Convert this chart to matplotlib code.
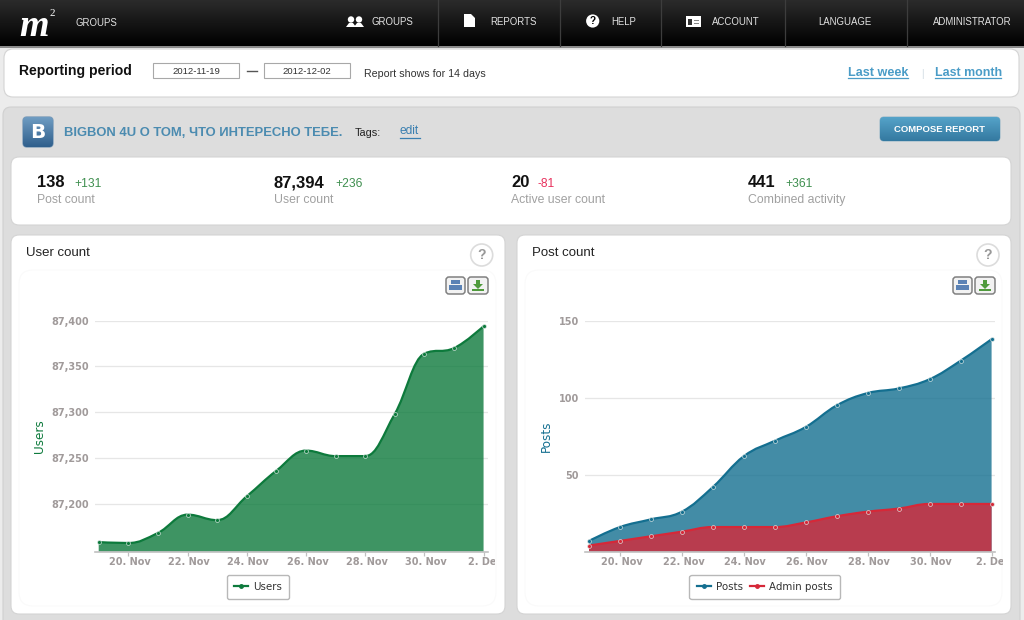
import numpy as np
import matplotlib
matplotlib.use('Agg')
import matplotlib.pyplot as plt
from matplotlib.lines import Line2D
from matplotlib.patches import Circle, FancyBboxPatch, PathPatch, Polygon, Rectangle
from matplotlib.path import Path
from matplotlib.transforms import Bbox, ScaledTranslation

W, H = 1024, 620

days = np.arange(14)
tick_labels = ['20. Nov', '22. Nov', '24. Nov', '26. Nov', '28. Nov', '30. Nov', '2. Dec']

users = [87158, 87157, 87168, 87188, 87182, 87208, 87236, 87258, 87252, 87252, 87298, 87364, 87370, 87394]
posts = [7, 16, 21, 26, 42, 62, 72, 81, 95, 103, 106, 112, 124, 138]
admin_posts = [4, 7, 10, 13, 16, 16, 16, 19, 23, 26, 28, 31, 31, 31]

user_ticks = [87200, 87250, 87300, 87350, 87400]
post_ticks = [50, 100, 150]

nav_labels = ['GROUPS', 'REPORTS', 'HELP', 'ACCOUNT', 'LANGUAGE', 'ADMINISTRATOR']
nav_x = [372, 490, 611, 712, 818, 933]
nav_seps = [438, 560, 661, 785, 907]

stat_values = ['138', '87,394', '20', '441']
stat_deltas = ['+131', '+236', '-81', '+361']
stat_names = ['Post count', 'User count', 'Active user count', 'Combined activity']
stat_x = [37, 274, 511, 748]
stat_delta_x = [74, 335, 538, 785]

GREEN = '#0d7a3c'
BLUE = '#146f90'
RED = '#d62838'

plt.rcParams['font.family'] = ['Liberation Sans', 'DejaVu Sans']

fig = plt.figure(figsize=(W / 100, H / 100), dpi=100, facecolor='#ececec')
bg = fig.add_axes([0, 0, 1, 1], zorder=0)
bg.axis('off')


def px(size):
    return size * 0.72


def txt(x, y, s, size=11, color='#222222', weight='normal', ha='left', **kw):
    return bg.text(x, y, s, fontsize=px(size), color=color, fontweight=weight, ha=ha, va='center', **kw)


def card(x0, y0, x1, y1, r=8, fc='white', ec='#d4d4d4', lw=0.8, zorder=2):
    p = FancyBboxPatch((x0, y0), x1 - x0, y1 - y0, boxstyle='round,pad=0,rounding_size=%s' % r,
                       fc=fc, ec=ec, lw=lw, zorder=zorder)
    bg.add_patch(p)
    return p


def gradient(x0, y0, x1, y1, top, bottom, clip=None, zorder=2):
    t = np.array(matplotlib.colors.to_rgb(top))
    b = np.array(matplotlib.colors.to_rgb(bottom))
    f = np.linspace(0, 1, 64)[:, None, None]
    im = bg.imshow(t * (1 - f) + b * f, extent=(x0, x1, y1, y0), aspect='auto', zorder=zorder)
    if clip is not None:
        im.set_clip_path(clip)


def underline(x0, x1, y, color):
    bg.plot([x0, x1], [y, y], color=color, lw=0.9, zorder=4)


# header bar
gradient(0, 0, W, 46, '#2b2b2b', '#000000')
bg.add_patch(Rectangle((0, 46), W, 2, fc='#8a8a8a', ec='none', zorder=2))
for x in nav_seps:
    bg.plot([x, x], [0, 46], color='#3d3d3d', lw=0.9, zorder=3)
txt(19, 27, 'm', 38, 'white', 'bold', family='Liberation Serif', style='italic', zorder=4)
txt(50, 13, '2', 11, 'white', family='Liberation Serif', zorder=4)
txt(75, 23.5, 'GROUPS', 9.6, '#e2e2e2', zorder=4)
for x, s in zip(nav_x, nav_labels):
    txt(x, 22, s, 9.6, '#e2e2e2', zorder=4)

# nav icons
for cx, r in [(351, 3.2), (359, 3.2)]:
    bg.add_patch(Circle((cx, 19.5), r, fc='white', ec='none', zorder=4))
    bg.add_patch(Polygon([(cx - 5, 27), (cx - 2, 23), (cx + 2, 23), (cx + 5, 27)], fc='white', ec='none', zorder=4))
bg.add_patch(Polygon([(464, 14), (471, 14), (475, 18), (475, 27), (464, 27)], fc='white', ec='none', zorder=4))
bg.add_patch(Circle((592.7, 21), 6.6, fc='white', ec='none', zorder=4))
txt(592.7, 21, '?', 10, 'black', 'bold', ha='center', zorder=5)
bg.add_patch(Rectangle((686, 16), 15, 11, fc='white', ec='none', zorder=4))
bg.add_patch(Rectangle((688, 19), 4, 6, fc='#333333', ec='none', zorder=5))
bg.add_patch(Rectangle((694, 20), 5, 1, fc='#888888', ec='none', zorder=5))
bg.add_patch(Rectangle((694, 23), 5, 1, fc='#888888', ec='none', zorder=5))

# reporting period card
card(4, 49, 1019, 97, r=9)
txt(19, 71.5, 'Reporting period', 14, '#111111', 'bold')
for x0, s in [(153, '2012-11-19'), (264, '2012-12-02')]:
    bg.add_patch(Rectangle((x0, 63), 86, 15, fc='white', ec='#a8a8a8', lw=0.8, zorder=3))
    txt(x0 + 43, 71, s, 9.5, '#333333', ha='center', zorder=4)
bg.plot([247, 257], [71, 71], color='#555555', lw=1, zorder=3)
txt(364, 74, 'Report shows for 14 days', 10.6, '#333333', zorder=4)
txt(848, 72.5, 'Last week', 12.6, '#4a9cc7', 'bold', zorder=4)
underline(848, 908, 78, '#4a9cc7')
txt(922, 74, '|', 10, '#ccd8e0', ha='center', zorder=4)
txt(935, 72.5, 'Last month', 12.4, '#4a9cc7', 'bold', zorder=4)
underline(935, 1001, 78, '#4a9cc7')

# grey panel
card(3, 107, 1020, 640, r=8, fc='#dddddd', ec='#d0d0d0', zorder=1)
vk = card(23, 117, 53, 147, r=4, fc='#3f6f9c', ec='#7f9db8', lw=1, zorder=3)
gradient(23, 117, 53, 147, '#6f9cc2', '#2f5f8c', clip=vk, zorder=3)
txt(38, 133, 'B', 20, 'white', 'bold', ha='center', family='DejaVu Sans', zorder=5)
txt(64, 133.5, 'BIGBON 4U О ТОМ, ЧТО ИНТЕРЕСНО ТЕБЕ.', 13, '#4b8bb0', 'bold', zorder=4)
txt(355, 133, 'Tags:', 11, '#222222', zorder=4)
txt(400, 131.5, 'edit', 12, '#3a7fb0', zorder=4)
underline(400, 420, 137.5, '#3a7fb0')
btn = card(880, 117, 1000, 141, r=4, fc='#4590b6', ec='#9ab8c8', lw=0.8, zorder=3)
gradient(880, 117, 1000, 141, '#55a3c9', '#3479a0', clip=btn, zorder=3)
txt(940, 129, 'COMPOSE REPORT', 9.5, 'white', 'bold', ha='center', zorder=5)

# stats card
card(11, 157, 1011, 225, r=8)
for i in range(4):
    delta_color = '#e8305c' if stat_deltas[i].startswith('-') else '#3f8f4f'
    txt(stat_x[i], 182.5, stat_values[i], 16.5, '#111111', 'bold', zorder=4)
    txt(stat_delta_x[i], 184, stat_deltas[i], 12, delta_color, zorder=4)
    txt(stat_x[i], 200, stat_names[i], 12.2, '#a0a0a0', zorder=4)

# chart cards
for x0, x1, title, help_x, print_x in [(11, 505, 'User count', 481.7, 446), (517, 1011, 'Post count', 988, 953)]:
    card(x0, 235, x1, 614, r=8)
    card(x0 + 8, 270, x1 - 9, 606, r=14, fc='white', ec='#fafafa', lw=0.8, zorder=2)
    txt(x0 + 15, 253.5, title, 13.2, '#222222', zorder=4)
    bg.add_patch(Circle((help_x, 255), 11, fc='white', ec='#dcdcdc', lw=1.2, zorder=4))
    txt(help_x, 255, '?', 14, '#999999', 'bold', ha='center', zorder=5)
    card(print_x, 277, print_x + 19, 294, r=3, fc='#f2f2f2', ec='#808080', lw=1.1, zorder=4)
    bg.add_patch(Rectangle((print_x + 5, 280), 9, 4, fc='#5b82b5', ec='none', zorder=5))
    bg.add_patch(Rectangle((print_x + 3, 285), 13, 5, fc='#5b82b5', ec='none', zorder=5))
    card(print_x + 22, 277, print_x + 42, 294, r=3, fc='#f2f2f2', ec='#808080', lw=1.1, zorder=4)
    ax_ = print_x + 32
    bg.add_patch(Polygon([(ax_ - 2, 280), (ax_ + 2, 280), (ax_ + 2, 284), (ax_ + 5, 284), (ax_, 289),
                          (ax_ - 5, 284), (ax_ - 2, 284)], fc='#4f9a3c', ec='none', zorder=5))
    bg.add_patch(Rectangle((ax_ - 6, 289), 12, 2, fc='#4f9a3c', ec='none', zorder=5))

bg.set_xlim(0, W)
bg.set_ylim(H, 0)


def spline_path(xs, ys):
    # same smoothing as a highcharts spline series
    xs = np.asarray(xs, dtype=float)
    ys = np.asarray(ys, dtype=float)
    verts = [(xs[0], ys[0])]
    codes = [Path.MOVETO]
    n = len(xs)
    left = [None] * n
    right = [None] * n
    for i in range(1, n - 1):
        lx = (1.5 * xs[i] + xs[i - 1]) / 2.5
        ly = (1.5 * ys[i] + ys[i - 1]) / 2.5
        rx = (1.5 * xs[i] + xs[i + 1]) / 2.5
        ry = (1.5 * ys[i] + ys[i + 1]) / 2.5
        c = ((ry - ly) * (rx - xs[i])) / (rx - lx) + ys[i] - ry
        ly += c
        ry += c
        # no false extremes between neighbouring points
        if ly > ys[i - 1] and ly > ys[i]:
            ly = max(ys[i - 1], ys[i])
            ry = 2 * ys[i] - ly
        elif ly < ys[i - 1] and ly < ys[i]:
            ly = min(ys[i - 1], ys[i])
            ry = 2 * ys[i] - ly
        if ry > ys[i + 1] and ry > ys[i]:
            ry = max(ys[i + 1], ys[i])
            ly = 2 * ys[i] - ry
        elif ry < ys[i + 1] and ry < ys[i]:
            ry = min(ys[i + 1], ys[i])
            ly = 2 * ys[i] - ry
        left[i] = (lx, ly)
        right[i] = (rx, ry)
    left[n - 1] = (xs[-1], ys[-1])
    right[0] = (xs[0], ys[0])
    for i in range(1, n):
        verts += [right[i - 1], left[i], (xs[i], ys[i])]
        codes += [Path.CURVE4] * 3
    return verts, codes


def area(ax, values, color, base):
    verts, codes = spline_path(days, values)
    fill_verts = verts + [(days[-1], base), (days[0], base), verts[0]]
    fill_codes = codes + [Path.LINETO, Path.LINETO, Path.CLOSEPOLY]
    ax.add_patch(PathPatch(Path(fill_verts, fill_codes), fc=color, ec='none', alpha=0.8, zorder=2))
    ax.add_patch(PathPatch(Path(verts, codes), fc='none', ec=color, lw=1.6, zorder=3))
    ax.plot(days, values, ls='none', marker='o', ms=2.8, mfc=color, mec='#dfe9e6', mew=0.45, zorder=4, clip_on=False)


def make_axes(x0, y0, x1, y1, xlim, ylim, yticks, ylabel, ylabel_color, ylabel_x, clip_x):
    ax = fig.add_axes([x0 / W, 1 - y1 / H, (x1 - x0) / W, (y1 - y0) / H], zorder=3)
    ax.patch.set_alpha(0)
    ax.set_xlim(*xlim)
    ax.set_ylim(*ylim)
    for s in ['top', 'left', 'right']:
        ax.spines[s].set_visible(False)
    ax.spines['bottom'].set_color('#c0c0c0')
    ax.spines['bottom'].set_linewidth(1.2)
    ax.set_axisbelow(True)
    ax.yaxis.grid(True, color='#e6e6e6', lw=0.9)
    ax.set_yticks(yticks)
    ax.set_yticklabels(['{:,}'.format(v) for v in yticks], fontsize=7, fontweight='bold',
                       color='#a09a9a', family='DejaVu Sans')
    ax.set_xticks(days[1::2])
    ax.set_xticklabels(tick_labels, fontsize=7, fontweight='bold', color='#a09a9a', family='DejaVu Sans')
    ax.tick_params(axis='y', length=0, pad=4.5)
    ax.tick_params(axis='x', length=3, width=0.9, color='#c0c0c0', pad=0.6)
    # last label is cut off by the chart container
    nudge = ScaledTranslation(1.5 / 100, 0, fig.dpi_scale_trans)
    for lab in ax.get_xticklabels():
        lab.set_transform(lab.get_transform() + nudge)
        lab.set_clip_on(True)
        lab.set_clip_box(Bbox.from_extents(0, 0, clip_x, H))
    ax.set_ylabel(ylabel, color=ylabel_color, fontsize=px(12), family='DejaVu Sans')
    ax.yaxis.set_label_coords((ylabel_x - x0) / (x1 - x0), (y1 - 436) / (y1 - y0))
    return ax


def add_legend(ax, handles, cx):
    leg = ax.legend(handles=handles, loc='center', bbox_to_anchor=(cx / W, 1 - 587 / H), bbox_transform=fig.transFigure,
                    ncol=len(handles), frameon=True, fancybox=True, framealpha=1, edgecolor='#b8b8b8', facecolor='white',
                    prop={'family': 'DejaVu Sans', 'size': 7.4}, labelcolor='#333333', handlelength=1.35,
                    handletextpad=0.5, columnspacing=0.7, borderpad=0.7)
    leg.get_frame().set_linewidth(1)
    return leg


ax1 = make_axes(95, 320.7, 488.3, 551.7, (-0.125, 13.16), (87147.5, 87400), user_ticks, 'Users', GREEN, 46, 495)
area(ax1, users, GREEN, 87147.5)
add_legend(ax1, [Line2D([], [], color=GREEN, lw=1.6, marker='o', ms=2.5, label='Users')], 257.7)

ax2 = make_axes(585.3, 320.7, 995.3, 551.7, (-0.12, 13.12), (0, 150), post_ticks, 'Posts', BLUE, 553, 1002.7)
area(ax2, posts, BLUE, 0)
area(ax2, admin_posts, RED, 0)
add_legend(ax2, [Line2D([], [], color=BLUE, lw=1.6, marker='o', ms=2.5, label='Posts'),
                 Line2D([], [], color=RED, lw=1.6, marker='o', ms=2.5, label='Admin posts')], 764.5)

fig.savefig('out.png', dpi=100, facecolor=fig.get_facecolor())
